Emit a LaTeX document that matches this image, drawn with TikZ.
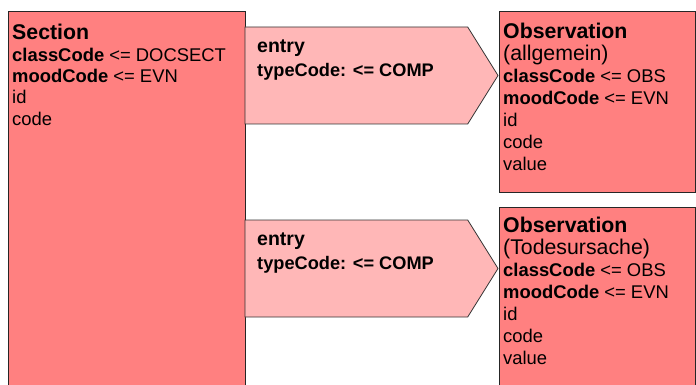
\documentclass[tikz,border=0pt]{standalone}
\usepackage{fontspec}
\setmainfont{Liberation Sans}
\usetikzlibrary{shapes.symbols}
\definecolor{clsred}{RGB}{255,128,128}
\definecolor{actpink}{RGB}{255,183,183}
\newcommand{\clsfont}{\fontsize{18.4}{22}\selectfont}
\newcommand{\actfont}{\fontsize{18.2}{23.5}\selectfont\bfseries}
\newcommand{\clstitle}[1]{{\fontsize{21.3}{22}\selectfont\bfseries #1}}
\newcommand{\clssub}[1]{{\fontsize{21.3}{22.5}\selectfont #1}}

\begin{document}
\begin{tikzpicture}[x=1pt,y=-1pt]
	\tikzstyle{class}=[rectangle,draw=black!85,fill=clsred,line width=1pt,anchor=north west,inner sep=0pt,outer sep=0pt]
	\tikzstyle{entrybox}=[signal,signal to=east,signal pointer angle=116,draw=black!80,fill=actpink,line width=0.8pt,inner sep=0pt,outer sep=0pt,minimum height=97,minimum width=253,anchor=west]
	\tikzstyle{txt}=[anchor=north west,inner sep=0pt,align=left,font=\clsfont]
	\useasboundingbox (0,0) rectangle (696,385);
	\clip (0,0) rectangle (696,385);

	% classes
	\node[class, minimum width=237, minimum height=400] (Sec) at (8,12) {};
	\node[class, minimum width=196, minimum height=180] (Obs1) at (499,12) {};
	\node[class, minimum width=196, minimum height=200] (Obs2) at (499,207) {};

	% entry relationships
	\node[entrybox] (E1) at (245,75.5) {};
	\node[entrybox] (E2) at (245,268.5) {};

	\node[txt, font=\fontsize{18.4}{21.4}\selectfont] (SecText) at (12,24) {\clstitle{Section}\\ \textbf{classCode} <= DOCSECT\\ \textbf{moodCode} <= EVN\\ id\\ code};
	\node[txt] (Obs1Text) at (503,23) {\clstitle{Observation}\\ \clssub{(allgemein)}\\ \textbf{classCode} <= OBS\\ \textbf{moodCode} <= EVN\\ id\\ code\\ value};
	\node[txt] (Obs2Text) at (503,217) {\clstitle{Observation}\\ \clssub{(Todesursache)}\\ \textbf{classCode} <= OBS\\ \textbf{moodCode} <= EVN\\ id\\ code\\ value};

	\node[txt, font=\actfont] (E1Text) at (257,40) {{\fontsize{19.5}{23.5}\selectfont entry}\\ typeCode: <= COMP};
	\node[txt, font=\actfont] (E2Text) at (257,233) {{\fontsize{19.5}{23.5}\selectfont entry}\\ typeCode: <= COMP};
\end{tikzpicture}
\end{document}
